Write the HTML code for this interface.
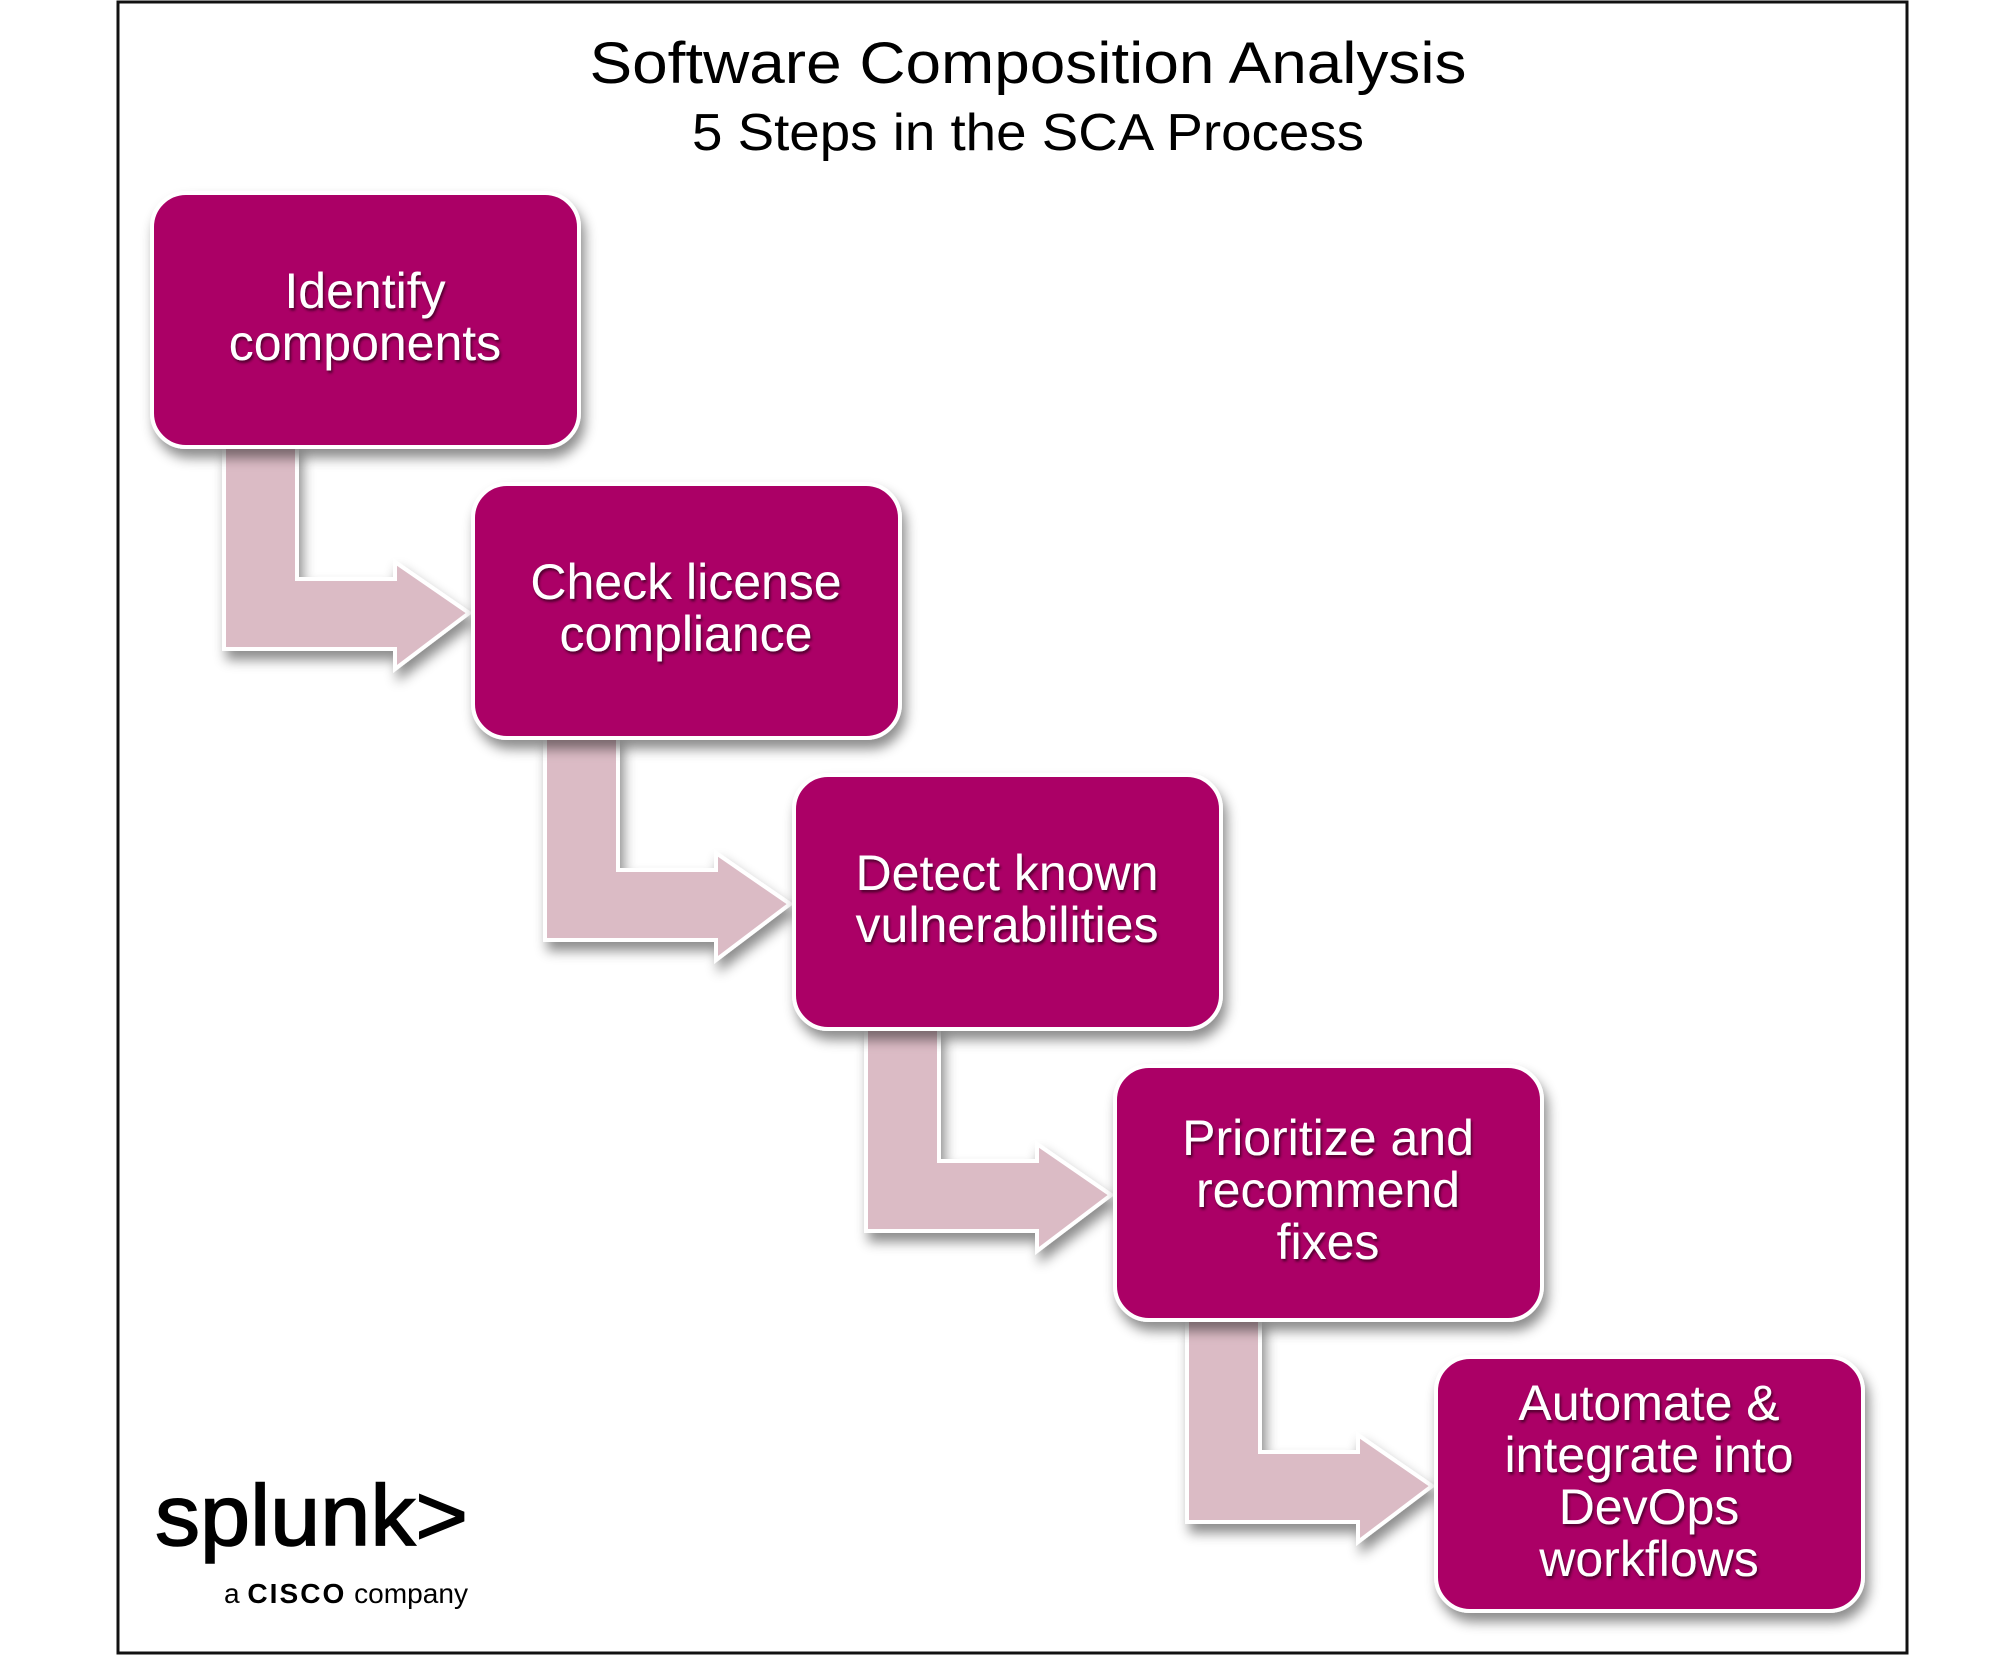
<!DOCTYPE html>
<html><head><meta charset="utf-8"><style>html,body{margin:0;padding:0;background:#fff}svg{display:block}</style></head>
<body>
<svg width="2016" height="1663" viewBox="0 0 2016 1663" xmlns="http://www.w3.org/2000/svg" font-family="Liberation Sans, Arial, sans-serif">
<defs>
<filter id="sh" x="-20%" y="-20%" width="150%" height="150%"><feDropShadow dx="4" dy="9" stdDeviation="6" flood-color="#000" flood-opacity="0.45"/></filter>
<filter id="ts" x="-10%" y="-10%" width="120%" height="130%"><feDropShadow dx="1.5" dy="2.5" stdDeviation="1.2" flood-color="#3a0020" flood-opacity="0.8"/></filter>
<g id="arrow"><path d="M224,447 L297,447 L297,579 L395,579 L395,562 L469,613 L395,669 L395,649 L224,649 Z" fill="#dbbbc5" stroke="#fff" stroke-width="4" filter="url(#sh)"/></g>
</defs>
<rect x="118" y="2" width="1789" height="1651" fill="#fff" stroke="#111" stroke-width="3"/>
<text x="1028" y="83" text-anchor="middle" font-size="58" fill="#000" textLength="877" lengthAdjust="spacingAndGlyphs">Software Composition Analysis</text>
<text x="1028" y="150" text-anchor="middle" font-size="52" fill="#000" textLength="672" lengthAdjust="spacingAndGlyphs">5 Steps in the SCA Process</text>

<use href="#arrow"/>
<use href="#arrow" transform="translate(321,291)"/>
<use href="#arrow" transform="translate(642,582)"/>
<use href="#arrow" transform="translate(963,873)"/>

<g fill="#ab0066" stroke="#fff" stroke-width="4" filter="url(#sh)">
<rect x="152" y="193" width="427" height="254" rx="34"/>
<rect x="473" y="484" width="427" height="254" rx="34"/>
<rect x="794" y="775" width="427" height="254" rx="34"/>
<rect x="1115" y="1066" width="427" height="254" rx="34"/>
<rect x="1436" y="1357" width="427" height="254" rx="34"/>
</g>
<g fill="#fff" font-size="50" text-anchor="middle" filter="url(#ts)">
<text x="365" y="308">Identify</text><text x="365" y="360">components</text>
<text x="686" y="599">Check license</text><text x="686" y="651">compliance</text>
<text x="1007" y="890">Detect known</text><text x="1007" y="942">vulnerabilities</text>
<text x="1328" y="1155">Prioritize and</text><text x="1328" y="1207">recommend</text><text x="1328" y="1259">fixes</text>
<text x="1649" y="1420">Automate &amp;</text><text x="1649" y="1472">integrate into</text><text x="1649" y="1524">DevOps</text><text x="1649" y="1576">workflows</text>
</g>
<text x="155" y="1545" font-size="86" fill="#000" stroke="#000" stroke-width="1.5" textLength="313" lengthAdjust="spacingAndGlyphs">splunk&gt;</text>
<text x="224" y="1603" font-size="28" fill="#000" textLength="244" lengthAdjust="spacingAndGlyphs">a <tspan font-weight="bold" letter-spacing="2">CISCO</tspan> company</text>
</svg>
</body></html>
